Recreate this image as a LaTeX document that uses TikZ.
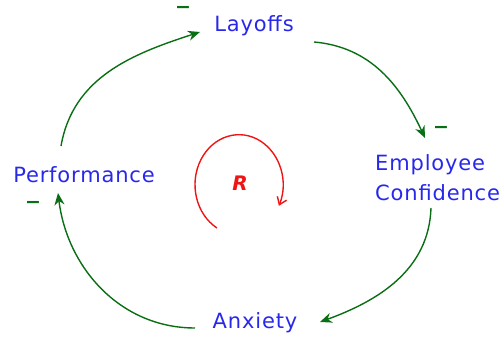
\documentclass[tikz,border=0pt]{standalone}
\usepackage{fontspec}
\setmainfont{DejaVu Sans}
\usetikzlibrary{arrows.meta}
\definecolor{txtblue}{RGB}{40,40,235}
\definecolor{lnkgreen}{RGB}{10,110,20}
\definecolor{loopred}{RGB}{240,20,20}
\tikzset{
  var/.style={text=txtblue,font=\fontsize{21}{30}\selectfont\addfontfeatures{LetterSpace=4},inner sep=0pt},
  conn/.style={draw=lnkgreen,line width=1.4pt,-{Stealth[length=12pt,width=10pt]}},
  sign/.style={text=lnkgreen,font=\fontsize{19}{19}\selectfont\bfseries,inner sep=0pt}
}
\begin{document}
\begin{tikzpicture}[x=1pt,y=1pt]
\useasboundingbox (0,0) rectangle (499,339);
\node[var] (lay) at (254,313) {Layoffs};
\node[var] (perf) at (84,164) {Performance};
\node[var,align=left,anchor=west] (emp) at (375,161) {Employee\\Confidence};
\node[var] (anx) at (255,16) {Anxiety};
\node[text=loopred,font=\fontsize{20}{20}\selectfont\bfseries\itshape,inner sep=0pt] (r) at (240,156) {R};
\draw[loopred,line width=1.4pt,-{Straight Barb[length=7pt,width=10pt]}] (r.center) ++(-23,-45) arc[start angle=240,end angle=-25,x radius=44,y radius=50];
\draw[conn] ([shift={(-23,29)}]perf.center) to[out=80,in=198] ([shift={(-54,-6)}]lay.center);
\draw[conn] ([shift={(60,-16)}]lay.center) to[out=-5,in=115] ([shift={(50,40)}]emp.west);
\draw[conn] ([shift={(56,-30)}]emp.west) to[out=-92,in=20] ([shift={(65,1)}]anx.center);
\draw[conn] ([shift={(-60,-5)}]anx.center) to[out=180,in=-83] ([shift={(-26,-18)}]perf.center);
\node[sign] (s1) at (183,329) {−};
\node[sign] (s2) at (441,209) {−};
\node[sign] (s3) at (33,134) {−};
\end{tikzpicture}
\end{document}
